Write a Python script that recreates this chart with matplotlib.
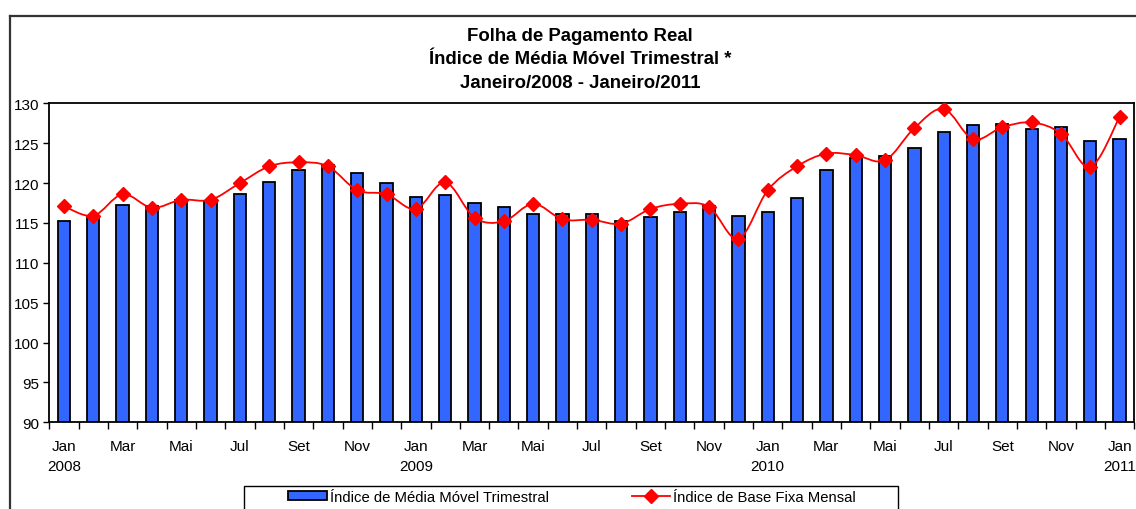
import numpy as np
import matplotlib
matplotlib.use("Agg")
import matplotlib.pyplot as plt
from matplotlib.path import Path
from matplotlib.patches import PathPatch, Rectangle
from matplotlib.lines import Line2D

plt.rcParams["font.family"] = ["Liberation Sans", "DejaVu Sans"]

MESES = ["Jan", "Fev", "Mar", "Abr", "Mai", "Jun", "Jul", "Ago", "Set", "Out", "Nov", "Dez"]
ANOS = ["2008", "2009", "2010", "2011"]
media_movel = [115.2, 115.8, 117.3, 117.1, 117.9, 117.7, 118.6, 120.1, 121.6, 122.3, 121.3, 120.0,
               118.2, 118.5, 117.5, 117.0, 116.1, 116.1, 116.1, 115.3, 115.7, 116.4, 117.1, 115.9,
               116.4, 118.1, 121.6, 123.1, 123.4, 124.4, 126.4, 127.3, 127.4, 126.8, 127.0, 125.3,
               125.5]
base_fixa = [117.1, 115.9, 118.6, 116.9, 117.9, 117.9, 120.0, 122.1, 122.6, 122.1, 119.1, 118.6,
             116.75, 120.1, 115.65, 115.2, 117.4, 115.45, 115.4, 114.9, 116.75, 117.4, 117.0, 113.0,
             119.1, 122.1, 123.7, 123.5, 122.85, 126.9, 129.3, 125.5, 127.0, 127.6, 126.2, 122.0,
             128.3]
TITULO = "Folha de Pagamento Real\nÍndice de Média Móvel Trimestral *\nJaneiro/2008 - Janeiro/2011"
LAB_BAR = "Índice de Média Móvel Trimestral"
LAB_LIN = "Índice de Base Fixa Mensal"

W, H = 1136, 510
BLUE = "#3366ff"
RED = "#ff0000"

n = len(media_movel)
x = np.arange(n)

fig = plt.figure(figsize=(W / 100, H / 100), dpi=100)
ax = fig.add_axes([49.3 / W, 1 - 423.3 / H, (1134.3 - 49.3) / W, (423.3 - 104.3) / H])

ax.bar(x, media_movel, width=0.42, color=BLUE, edgecolor="black", linewidth=1.3, zorder=2)

# smoothed line (Excel-style bezier through the points)
pts = np.column_stack([x, base_fixa]).astype(float)
verts = [pts[0]]
codes = [Path.MOVETO]
for i in range(n - 1):
    p0 = pts[i - 1] if i > 0 else pts[i]
    p1, p2 = pts[i], pts[i + 1]
    p3 = pts[i + 2] if i + 2 < n else pts[i + 1]
    verts += [p1 + (p2 - p0) / 6, p2 - (p3 - p1) / 6, p2]
    codes += [Path.CURVE4] * 3
ax.add_patch(PathPatch(Path(verts, codes), fill=False, edgecolor=RED, lw=1.3, zorder=3))
ax.plot(x, base_fixa, ls="none", marker="D", ms=7, color=RED, zorder=4)

ax.set_xlim(-0.5, n - 0.5)
ax.set_ylim(90, 130)
ax.set_yticks(np.arange(90, 131, 5))
ax.tick_params(axis="y", length=4, width=1, labelsize=11, pad=3)

ax.set_xticks(np.arange(-0.5, n, 1))
ax.set_xticklabels([])
ax.tick_params(axis="x", which="major", length=5, width=1)
lab_pos = x[::2]
labs = []
for i in lab_pos:
    m = MESES[i % 12]
    labs.append(m + "\n" + ANOS[i // 12] if i % 12 == 0 else m)
ax.set_xticks(lab_pos, minor=True)
ax.set_xticklabels(labs, minor=True, fontsize=11, linespacing=1.55)
ax.tick_params(axis="x", which="minor", length=0, pad=12)

for s in ax.spines.values():
    s.set_linewidth(1.3)
    s.set_color("black")

fig.text(580 / W, 1 - 60 / H, TITULO, ha="center", va="center", fontsize=13.4,
         fontweight="bold", linespacing=1.52)

# outer chart frame
fig.add_artist(Line2D([10 / W, 1], [1 - 16.5 / H, 1 - 16.5 / H], transform=fig.transFigure,
                      color="#333333", lw=1.6))
fig.add_artist(Line2D([10 / W, 10 / W], [0, 1 - 16.5 / H], transform=fig.transFigure,
                      color="#333333", lw=1.6))

# legend
fig.add_artist(Rectangle((244 / W, -0.05), (898 - 244) / W, 0.05 + 1 - 487 / H,
                         transform=fig.transFigure, fill=False, edgecolor="black", lw=1))
hb = Rectangle((0, 0), 1, 1, facecolor=BLUE, edgecolor="black", lw=1.3)
hl = Line2D([], [], color=RED, lw=1.3, marker="D", ms=7)
fig.legend([hb, hl], [LAB_BAR, LAB_LIN], ncol=2, frameon=False, fontsize=10.7,
           loc="center left", bbox_to_anchor=(288 / W, 1 - 498 / H),
           handlelength=2.6, handleheight=0.6, handletextpad=0.2, columnspacing=5.6,
           borderpad=0, borderaxespad=0)

fig.savefig("out.png", dpi=100)
